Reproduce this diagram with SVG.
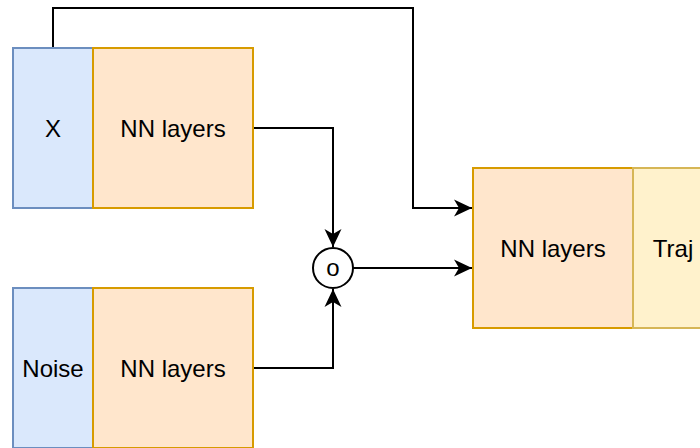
<svg xmlns="http://www.w3.org/2000/svg" width="700" height="448" viewBox="0 0 700 448">
<style>
.blue{fill:#dae8fc;stroke:#6c8ebf;stroke-width:2}
.orange{fill:#ffe6cc;stroke:#d79b00;stroke-width:2}
.yellow{fill:#fff2cc;stroke:#d6b656;stroke-width:2}
.t{font-family:"Liberation Sans",Arial,sans-serif;font-size:24px;fill:#000;text-anchor:middle;dominant-baseline:central}
.e{fill:none;stroke:#000;stroke-width:2}
</style>
<defs>
<marker id="arr" viewBox="0 0 18 18" refX="18" refY="9" markerWidth="18" markerHeight="18" markerUnits="userSpaceOnUse" orient="auto" overflow="visible">
<path d="M0,0.5 L18,9 L0,17.5 L5,9 Z" fill="#000"/>
</marker>
</defs>
<g id="edges">
<path class="e" d="M53,48 V8 H413 V208 H472" marker-end="url(#arr)"/>
<path class="e" d="M253,128 H333 V247" marker-end="url(#arr)"/>
<path class="e" d="M253,368 H333 V289" marker-end="url(#arr)"/>
<path class="e" d="M353,268 H472" marker-end="url(#arr)"/>
</g>
<g id="x"><rect class="blue" x="13" y="48" width="80" height="160"/><text class="t" x="53" y="128">X</text></g>
<g id="nn1"><rect class="orange" x="93" y="48" width="160" height="160"/><text class="t" x="173" y="128">NN layers</text></g>
<g id="noise"><rect class="blue" x="13" y="288" width="80" height="160"/><text class="t" x="53" y="368">Noise</text></g>
<g id="nn2"><rect class="orange" x="93" y="288" width="160" height="160"/><text class="t" x="173" y="368">NN layers</text></g>
<g id="op"><circle cx="333" cy="268" r="20" fill="#fff" stroke="#000" stroke-width="2"/><text class="t" x="333" y="267">o</text></g>
<g id="nn3"><rect class="orange" x="473" y="168" width="160" height="160"/><text class="t" x="553" y="248">NN layers</text></g>
<g id="traj"><rect class="yellow" x="633" y="168" width="80" height="160"/><text class="t" x="673" y="248">Traj</text></g>
</svg>
